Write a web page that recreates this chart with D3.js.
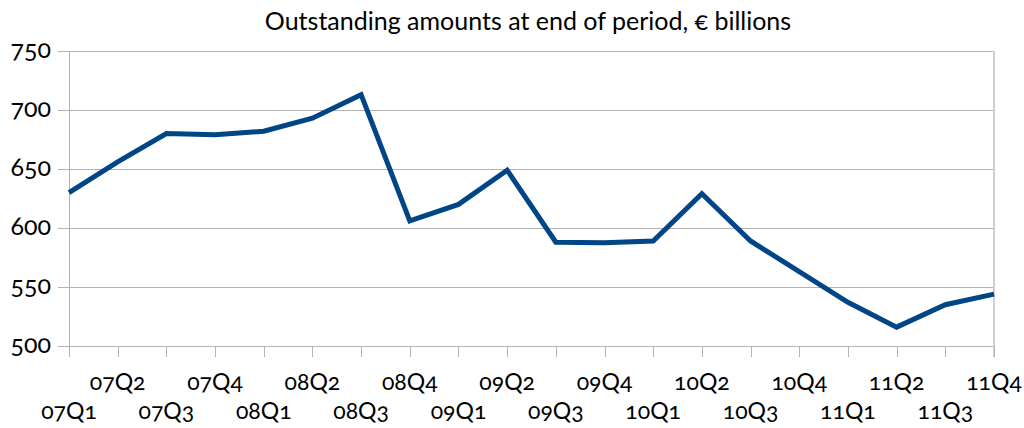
<!doctype html>
<meta charset="utf-8">
<style>
body { margin: 0; background: #fff; }
svg text { font-family: Lato, "Open Sans", sans-serif; font-feature-settings: "onum" 1; fill: #000; }
</style>
<script src="https://d3js.org/d3.v7.min.js"></script>
<body>
<svg id="chart"></svg>
<script>
// quarters and outstanding amounts (€ bn)
var quarters = ["07Q1","07Q2","07Q3","07Q4","08Q1","08Q2","08Q3","08Q4",
                "09Q1","09Q2","09Q3","09Q4","10Q1","10Q2","10Q3","10Q4",
                "11Q1","11Q2","11Q3","11Q4"];
var amounts = [630, 656, 680, 679, 682, 693, 713, 606,
               620, 649, 588, 587.5, 589, 629, 589, 563,
               537, 516, 535, 544];
var yTicks = [500, 550, 600, 650, 700, 750];
var title = "Outstanding amounts at end of period, \u20ac billions";

var width = 1024, height = 428;
var margin = {left: 69, right: 994, top: 51, bottom: 346};

var svg = d3.select("#chart").attr("width", width).attr("height", height);

var x = d3.scalePoint().domain(quarters).range([margin.left, margin.right]);
var y = d3.scaleLinear().domain([500, 750]).range([margin.bottom, margin.top]);

// title
svg.append("text")
  .attr("x", 528).attr("y", 30)
  .attr("text-anchor", "middle")
  .style("font-size", "25px")
  .text(title);

// horizontal gridlines
svg.append("g")
  .selectAll("line")
  .data(yTicks)
  .enter().append("line")
    .attr("x1", margin.left - 11).attr("x2", margin.right)
    .attr("y1", function(d){ return y(d) + 0.5; })
    .attr("y2", function(d){ return y(d) + 0.5; })
    .attr("stroke", "#b3b3b3")
    .attr("stroke-width", 1);

// y labels
svg.append("g")
  .selectAll("text")
  .data(yTicks)
  .enter().append("text")
    .attr("x", 51)
    .attr("y", function(d){ return y(d) + 7; })
    .attr("text-anchor", "end")
    .style("font-size", "25px")
    .text(function(d){ return d; });

// left axis and right border
svg.append("line")
  .attr("x1", margin.left + 0.5).attr("x2", margin.left + 0.5)
  .attr("y1", margin.top).attr("y2", margin.bottom + 11)
  .attr("stroke", "#b3b3b3");
svg.append("line")
  .attr("x1", margin.right).attr("x2", margin.right)
  .attr("y1", margin.top).attr("y2", margin.bottom + 11)
  .attr("stroke", "#cfcfcf").attr("stroke-width", 2);

// x ticks
svg.append("g")
  .selectAll("line")
  .data(quarters)
  .enter().append("line")
    .attr("x1", function(d){ return Math.round(x(d)) + 0.5; })
    .attr("x2", function(d){ return Math.round(x(d)) + 0.5; })
    .attr("y1", margin.bottom).attr("y2", margin.bottom + 11)
    .attr("stroke", "#b3b3b3");

// x labels, staggered on two rows
svg.append("g")
  .selectAll("text")
  .data(quarters)
  .enter().append("text")
    .attr("x", function(d){ return x(d); })
    .attr("y", function(d, i){ return i % 2 ? 390 : 419; })
    .attr("text-anchor", "middle")
    .style("font-size", "23px")
    .text(function(d){ return d; });

// data line
var line = d3.line()
  .x(function(d, i){ return x(quarters[i]); })
  .y(function(d){ return y(d); });

svg.append("path")
  .datum(amounts)
  .attr("d", line)
  .attr("fill", "none")
  .attr("stroke", "#004586")
  .attr("stroke-width", 5)
  .attr("stroke-linejoin", "miter");
</script>
</body>
